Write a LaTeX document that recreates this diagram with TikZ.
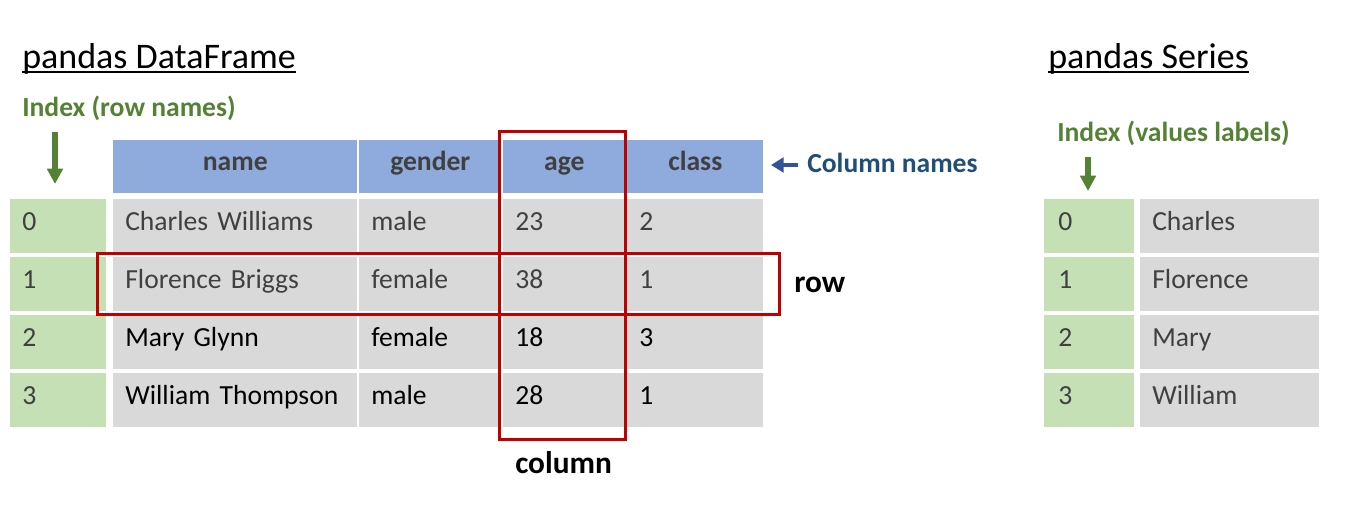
\documentclass[tikz,border=0pt]{standalone}
\usepackage{fontspec}
\setmainfont{Carlito}
\usepackage{xcolor}
\usetikzlibrary{arrows.meta,positioning}
\definecolor{headblue}{RGB}{143,170,220}
\definecolor{cellgray}{RGB}{217,217,217}
\definecolor{idxgreen}{RGB}{197,224,180}
\definecolor{labelgreen}{RGB}{84,130,53}
\definecolor{markred}{RGB}{192,0,0}
\definecolor{arrowblue}{RGB}{47,85,151}
\definecolor{namesblue}{RGB}{31,78,121}
\definecolor{textgray}{RGB}{64,64,64}
\newcommand{\cellfont}{\fontsize{20.7pt}{24pt}\selectfont}
\newcommand{\titlefont}{\fontsize{27pt}{32pt}\selectfont}
\newcommand{\markfont}{\fontsize{23.5pt}{28pt}\selectfont}

\begin{document}
\begin{tikzpicture}[
    x=0.75pt, y=-0.75pt,
    cellbase/.style={rectangle,anchor=north west,inner xsep=9pt,inner ysep=0pt,
      text height=16pt,text depth=10pt,minimum height=40.5pt,font=\cellfont},
    datacell/.style={cellbase,fill=cellgray,align=left},
    idxcell/.style={cellbase,fill=idxgreen,align=left,text=textgray},
    headcell/.style={cellbase,fill=headblue,align=center,text=textgray,
      minimum height=39.75pt,font=\cellfont\bfseries},
    title/.style={anchor=base west,inner sep=0pt,font=\titlefont},
    tag/.style={anchor=base west,inner sep=0pt,font=\cellfont\bfseries},
    idxarrow/.style={-{Triangle[width=11.5pt,length=11.5pt]},line width=4pt,draw=labelgreen},
    markbox/.style={draw=markred,line width=2.25pt}
  ]
    \useasboundingbox (0,0) rectangle (1356,527);

    % DataFrame
    \node[title] (dftitle) at (22,69) {pandas DataFrame};
    \draw[line width=1.5pt] ([yshift=-2.5pt]dftitle.base west) -- ([yshift=-2.5pt]dftitle.base east);
    \node[tag,text=labelgreen] (dfidxlabel) at (22,117) {Index (row names)};
    \coordinate (dfarrtail) at (55,132);
    \coordinate (dfarrtip) at (55,184);
    \draw[idxarrow] (dfarrtail) -- (dfarrtip);

    \node[headcell,text width=165pt] (hname) at (113,140) {name};
    \node[headcell,text width=88.5pt] (hgender) at (359,140) {gender};
    \node[headcell,text width=73.5pt] (hage) at (503,140) {age};
    \node[headcell,text width=84pt] (hclass) at (627,140) {class};

    \foreach \i/\nm/\gd/\ag/\cl/\tc in {0/Charles Williams/male/23/2/textgray,
        1/Florence Briggs/female/38/1/textgray,2/Mary Glynn/female/18/3/black,
        3/William Thompson/male/28/1/black} {
      \pgfmathsetmacro\rowtop{199+58*\i}
      \node[idxcell,text width=54pt] (idx\i) at (10,\rowtop) {\i};
      \node[datacell,text width=165pt,text=\tc] (name\i) at (113,\rowtop) {\nm};
      \node[datacell,text width=88.5pt,text=\tc] (gender\i) at (359,\rowtop) {\gd};
      \node[datacell,text width=73.5pt,text=\tc] (age\i) at (503,\rowtop) {\ag};
      \node[datacell,text width=84pt,text=\tc] (class\i) at (627,\rowtop) {\cl};
    }

    \coordinate (colarrtail) at (798,165);
    \coordinate (colarrtip) at (771,165);
    \draw[-{Triangle[width=11pt,length=9.5pt]},line width=3.5pt,draw=arrowblue] (colarrtail) -- (colarrtip);
    \node[tag,text=namesblue] (colnames) at (807,173) {Column names};

    \draw[markbox] (499.5,131.5) rectangle (625.5,439.5);
    \draw[markbox] (97.5,253.5) rectangle (779.5,314);
    \node[tag,font=\markfont\bfseries] (rowtag) at (794,292) {row};
    \node[tag,font=\markfont\bfseries] (coltag) at (515,473) {column};

    % Series
    \node[title] (srtitle) at (1048,69) {pandas Series};
    \draw[line width=1.5pt] ([yshift=-2.5pt]srtitle.base west) -- ([yshift=-2.5pt]srtitle.base east);
    \node[tag,text=labelgreen] (sridxlabel) at (1057,142) {Index (values labels)};
    \coordinate (srarrtail) at (1088,157);
    \coordinate (srarrtip) at (1088,191);
    \draw[idxarrow] (srarrtail) -- (srarrtip);

    \foreach \i/\val in {0/Charles,1/Florence,2/Mary,3/William} {
      \pgfmathsetmacro\rowtop{199+58*\i}
      \node[idxcell,inner xsep=10.5pt,text width=46.5pt] (sidx\i) at (1044,\rowtop) {\i};
      \node[datacell,text width=116.25pt,text=textgray] (sval\i) at (1140,\rowtop) {\val};
    }
\end{tikzpicture}
\end{document}
